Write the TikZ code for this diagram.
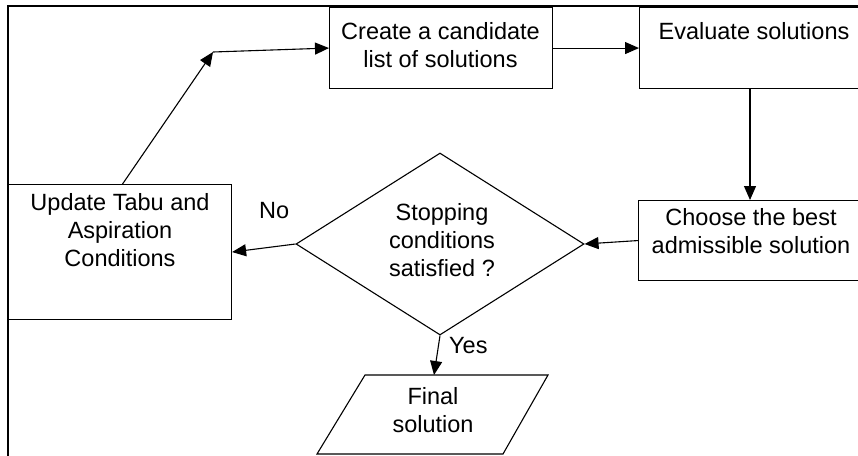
\documentclass[tikz,border=0pt]{standalone}
\usepackage{fontspec}
\setmainfont{Liberation Sans}
\usetikzlibrary{arrows.meta,shapes.geometric}
\begin{document}
\begin{tikzpicture}[x=1pt,y=-1pt,
  box/.style={draw, line width=1.1pt, inner sep=0pt, anchor=north west},
  txt/.style={font=\fontsize{23.5}{28}\selectfont, align=center, inner sep=0pt, anchor=north},
  lbl/.style={font=\fontsize{23.5}{28}\selectfont, inner sep=0pt, anchor=north west},
  arr/.style={line width=1.1pt, -{Triangle[length=14pt,width=12pt]}},
  ln/.style={line width=1.1pt}]
\useasboundingbox (0,0) rectangle (858,455);
\clip (0,0) rectangle (858,455);
% frame
\coordinate (ftl) at (8,6);
\coordinate (ftr) at (870,6);
\coordinate (fbl) at (8,470);
\draw[ln] (fbl) -- (ftl) -- (ftr);
% boxes
\node[box, minimum width=223pt, minimum height=81pt] (create) at (329,7) {};
\node[txt] (createT) at (440.5,22) {Create a candidate\\list of solutions};
\node[box, minimum width=227pt, minimum height=81pt] (eval) at (639,7) {};
\node[txt] (evalT) at (754,22) {Evaluate solutions};
\node[box, minimum width=228pt, minimum height=80pt] (choose) at (638,200) {};
\node[txt] (chooseT) at (751,208) {Choose the best\\admissible solution};
\node[box, minimum width=223pt, minimum height=135pt] (update) at (8,184) {};
\node[txt] (updateT) at (120,193) {Update Tabu and\\Aspiration\\Conditions};
% decision
\node[diamond, draw, ln, minimum width=288pt, minimum height=182pt, inner sep=0pt, aspect=1.58] (dec) at (440,244) {};
\node[txt] (decT) at (442,203) {Stopping\\conditions\\satisfied ?};
% final
\coordinate (fa) at (365,375);
\coordinate (fb) at (548,375);
\coordinate (fc) at (503,454);
\coordinate (fd) at (317,454);
\coordinate (ftop) at (434,375);
\draw[ln] (fa) -- (fb) -- (fc) -- (fd) -- cycle;
\node[txt] (finalT) at (433,387) {Final\\solution};
% labels
\node[lbl] (no) at (259,202) {No};
\node[lbl] (yes) at (449,337) {Yes};
% connectors
\coordinate (bend) at (213,52);
\draw[arr] ([xshift=2.5pt]update.north) -- (bend);
\draw[arr] (bend) -- (create.west);
\draw[arr] (create.east) -- (eval.west);
\draw[arr] (eval.south -| 750,0) -- (choose.north -| 750,0);
\draw[arr] (choose.west) -- (dec.east);
\draw[arr] (dec.west) -- (update.east);
\draw[arr] (dec.south) -- (ftop);
\end{tikzpicture}
\end{document}
